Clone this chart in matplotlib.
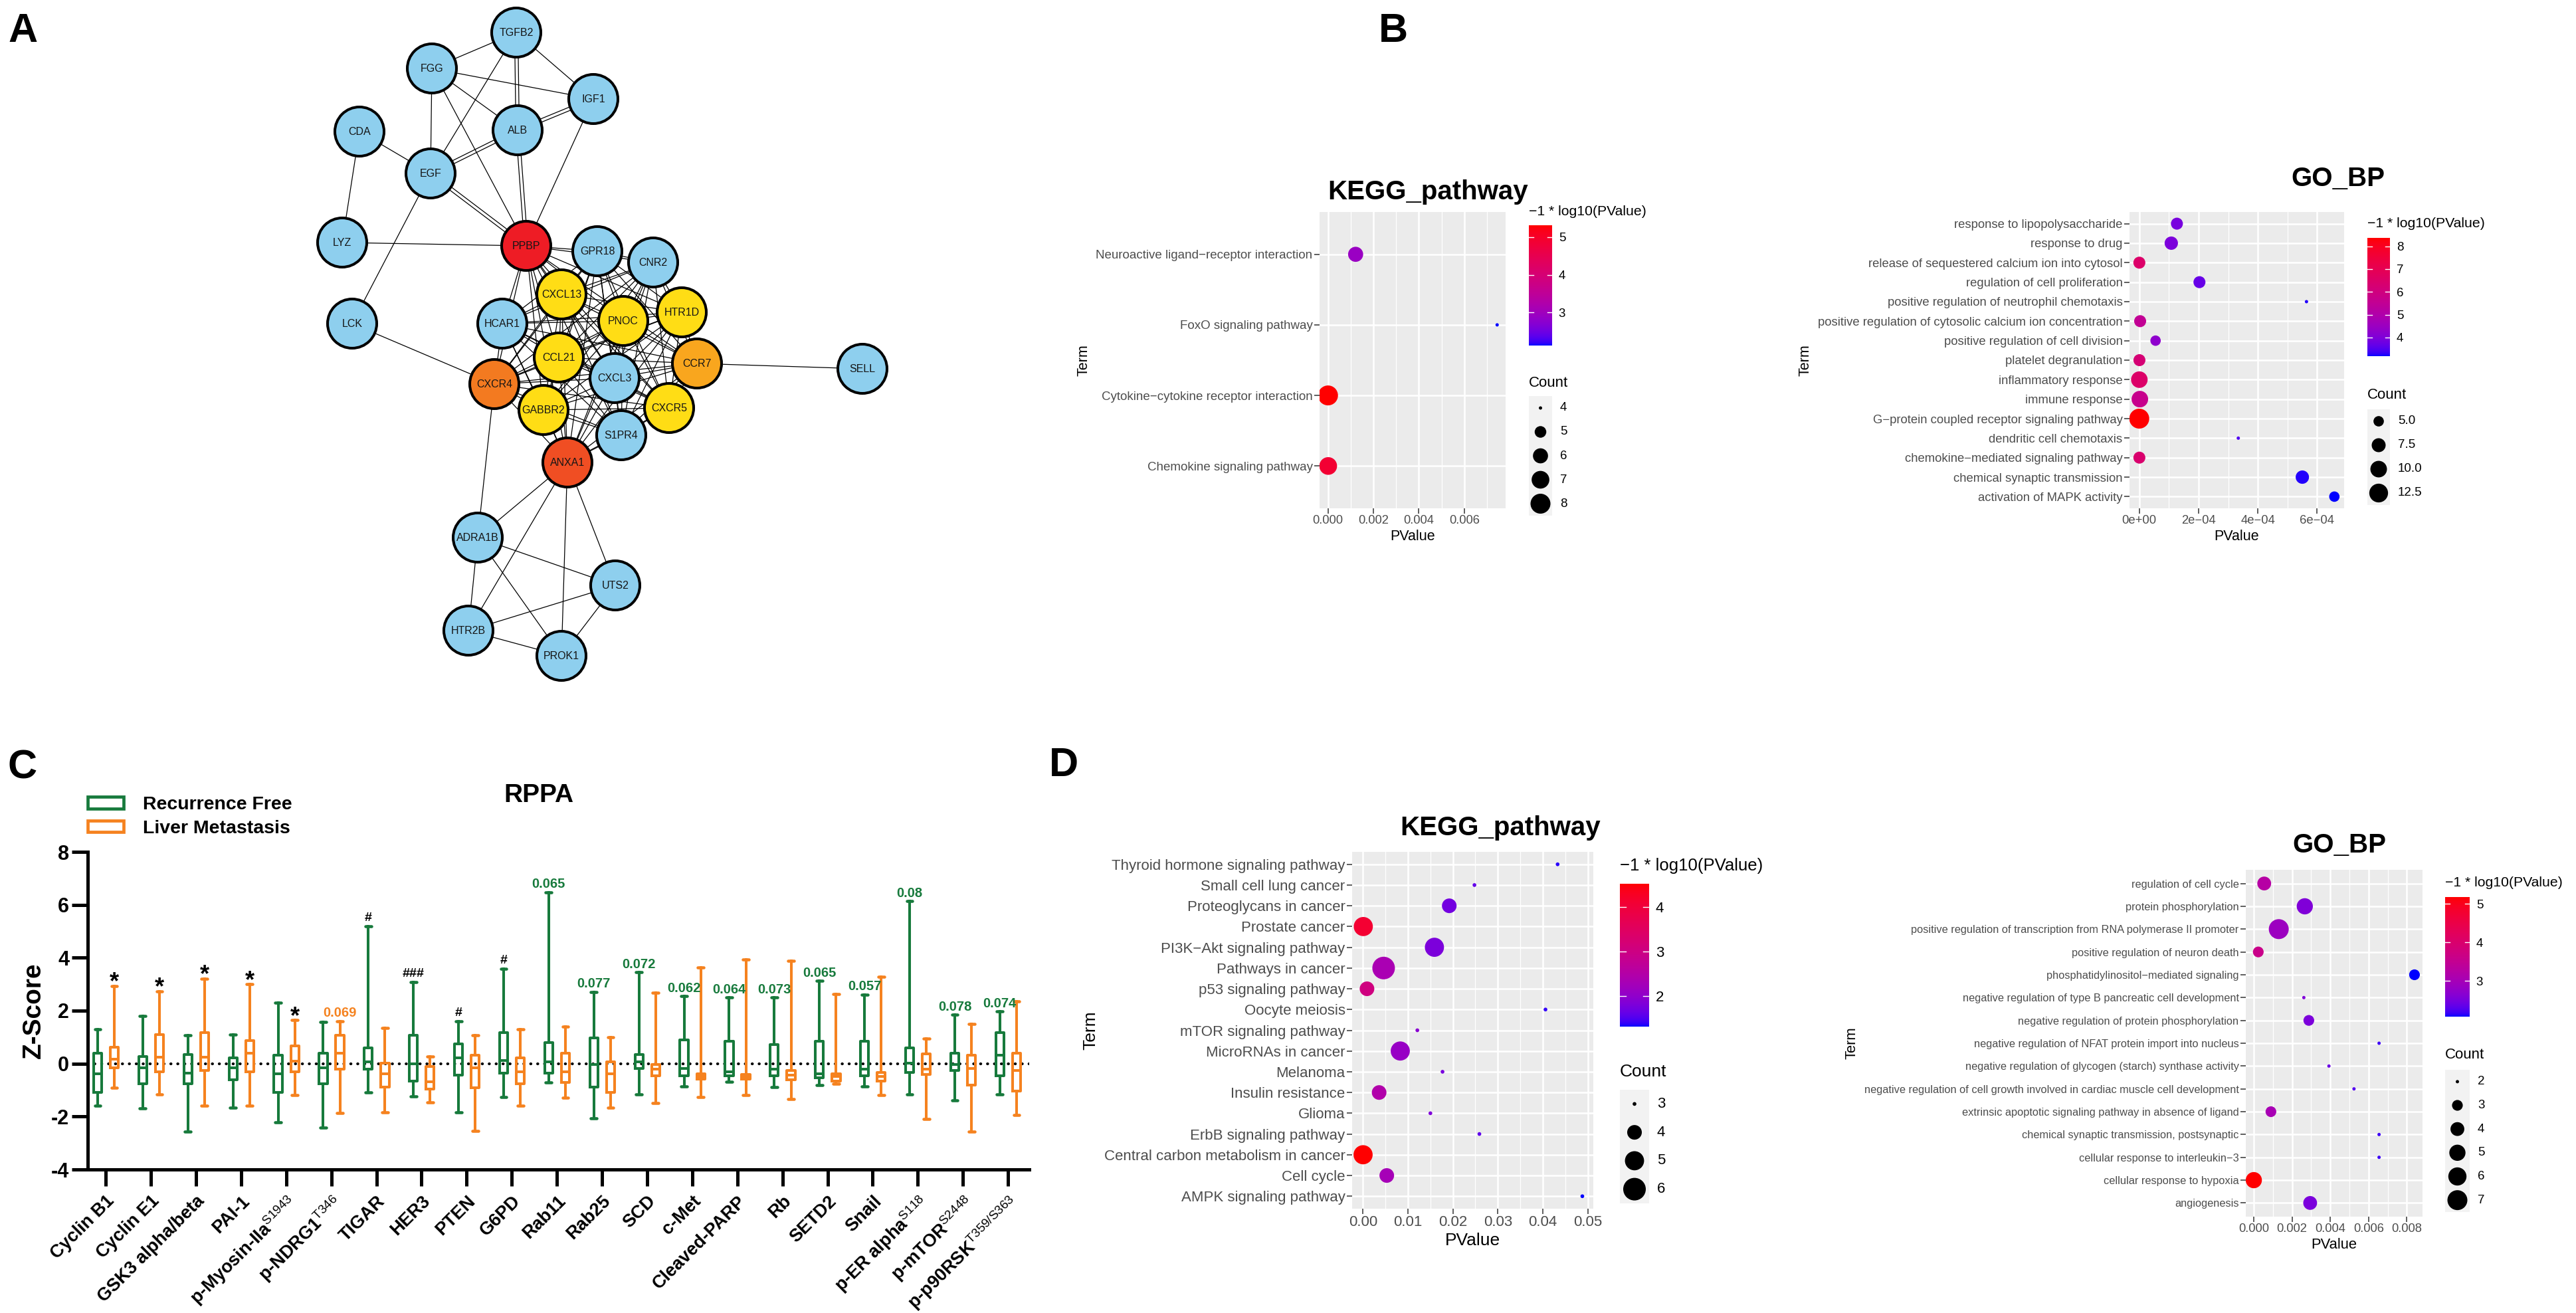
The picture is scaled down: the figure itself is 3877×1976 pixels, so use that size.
import itertools
import numpy as np
import matplotlib
matplotlib.use('Agg')
import matplotlib.pyplot as plt
from matplotlib.colors import ListedColormap
from matplotlib.patches import Patch

W, H = 3877, 1976
plt.rcParams['font.family'] = ['Liberation Sans', 'DejaVu Sans']
plt.rcParams['axes.unicode_minus'] = False
plt.rcParams['mathtext.fontset'] = 'custom'
plt.rcParams['mathtext.rm'] = 'Liberation Sans'
plt.rcParams['mathtext.bf'] = 'Liberation Sans:bold'

# ---------------- panel A: interaction network ----------------
node_names = ['TGFB2', 'FGG', 'IGF1', 'CDA', 'ALB', 'EGF', 'LYZ', 'PPBP', 'GPR18', 'CNR2',
              'LCK', 'CXCL13', 'PNOC', 'HTR1D', 'HCAR1', 'CCL21', 'CCR7', 'SELL', 'CXCR4',
              'CXCL3', 'GABBR2', 'CXCR5', 'S1PR4', 'ANXA1', 'ADRA1B', 'UTS2', 'HTR2B', 'PROK1']
node_x = [777, 650, 893, 541, 779, 648, 515, 792, 899, 983, 530, 845, 938, 1026, 756, 841,
          1049, 1298, 744, 925, 818, 1007, 935, 854, 719, 926, 705, 845]
node_y = [49, 103, 149, 198, 196, 261, 365, 370, 378, 395, 487, 443, 483, 470, 487, 538,
          547, 555, 578, 569, 617, 614, 655, 696, 809, 881, 949, 987]
node_group = ['other', 'other', 'other', 'other', 'other', 'other', 'other', 'top1', 'other',
              'other', 'other', 'hub', 'hub', 'hub', 'other', 'hub', 'top4', 'other', 'top3',
              'other', 'hub', 'hub', 'other', 'top2', 'other', 'other', 'other', 'other']
core_nodes = ['PPBP', 'GPR18', 'CNR2', 'CXCL13', 'PNOC', 'HTR1D', 'HCAR1', 'CCL21', 'CCR7',
              'CXCR4', 'CXCL3', 'GABBR2', 'CXCR5', 'S1PR4', 'ANXA1']
single_edges = [('TGFB2', 'FGG'), ('TGFB2', 'IGF1'), ('TGFB2', 'EGF'), ('FGG', 'IGF1'),
                ('FGG', 'ALB'), ('FGG', 'EGF'), ('FGG', 'PPBP'), ('IGF1', 'PPBP'),
                ('CDA', 'EGF'), ('CDA', 'LYZ'), ('EGF', 'LCK'), ('LYZ', 'PPBP'),
                ('LCK', 'CXCR4'), ('CCR7', 'SELL'), ('CXCR4', 'ADRA1B'), ('ANXA1', 'ADRA1B'),
                ('ANXA1', 'HTR2B'), ('ANXA1', 'PROK1'), ('ANXA1', 'UTS2'), ('ADRA1B', 'UTS2'),
                ('ADRA1B', 'HTR2B'), ('ADRA1B', 'PROK1'), ('UTS2', 'HTR2B'), ('UTS2', 'PROK1'),
                ('HTR2B', 'PROK1')]
double_edges = [('TGFB2', 'ALB'), ('IGF1', 'ALB'), ('ALB', 'EGF'), ('ALB', 'PPBP'),
                ('EGF', 'PPBP')]

# ---------------- panel B: enrichment of network genes ----------------
kegg_b_terms = ['Neuroactive ligand\u2212receptor interaction', 'FoxO signaling pathway',
                'Cytokine\u2212cytokine receptor interaction', 'Chemokine signaling pathway']
kegg_b_pvalue = [0.00122, 0.00745, 4.9e-6, 1.3e-5]
kegg_b_count = [6, 4, 8, 7]

go_b_terms = ['response to lipopolysaccharide', 'response to drug',
              'release of sequestered calcium ion into cytosol', 'regulation of cell proliferation',
              'positive regulation of neutrophil chemotaxis',
              'positive regulation of cytosolic calcium ion concentration',
              'positive regulation of cell division', 'platelet degranulation',
              'inflammatory response', 'immune response',
              'G\u2212protein coupled receptor signaling pathway', 'dendritic cell chemotaxis',
              'chemokine\u2212mediated signaling pathway', 'chemical synaptic transmission',
              'activation of MAPK activity']
go_b_pvalue = [1.27e-4, 1.08e-4, 3.2e-7, 2.03e-4, 5.64e-4, 3.0e-6, 5.5e-5, 6.0e-7, 3.0e-7,
               2.0e-6, 4.3e-9, 3.34e-4, 4.0e-7, 5.5e-4, 6.58e-4]
go_b_count = [6, 7, 6, 6, 3, 6, 5, 6, 10, 10, 14, 3, 6, 7, 5]

# ---------------- panel C: RPPA z-scores ----------------
rppa_labels = ['Cyclin B1', 'Cyclin E1', 'GSK3 alpha/beta', 'PAI-1',
               r'p-Myosin-IIa$^{\mathrm{S1943}}$', r'p-NDRG1$^{\mathrm{T346}}$', 'TIGAR', 'HER3',
               'PTEN', 'G6PD', 'Rab11', 'Rab25', 'SCD', 'c-Met', 'Cleaved-PARP', 'Rb', 'SETD2',
               'Snail', r'p-ER alpha$^{\mathrm{S118}}$', r'p-mTOR$^{\mathrm{S2448}}$',
               r'p-p90RSK$^{\mathrm{T359/S363}}$']
rf_min = [-1.60, -1.68, -2.57, -1.66, -2.22, -2.41, -1.10, -1.24, -1.83, -1.27, -0.72, -2.07,
          -1.16, -0.85, -0.69, -0.88, -0.80, -0.85, -1.16, -1.40, -1.16]
rf_q1 = [-1.08, -0.77, -0.77, -0.61, -1.08, -0.77, -0.22, -0.66, -0.43, -0.35, -0.35, -0.88,
         -0.19, -0.46, -0.46, -0.46, -0.54, -0.46, -0.33, -0.26, -0.46]
rf_med = [-0.38, -0.15, -0.35, -0.15, -0.38, -0.15, 0.06, 0.00, 0.21, 0.12, 0.06, -0.04,
          0.06, -0.19, -0.30, -0.22, -0.38, -0.22, 0.01, -0.04, 0.32]
rf_q3 = [0.40, 0.27, 0.35, 0.21, 0.32, 0.40, 0.59, 1.06, 0.74, 1.18, 0.79, 0.98, 0.35, 0.90,
         0.84, 0.71, 0.84, 0.84, 0.59, 0.40, 1.18]
rf_max = [1.30, 1.79, 1.07, 1.10, 2.30, 1.57, 5.20, 3.08, 1.61, 3.57, 6.48, 2.71, 3.45, 2.54,
          2.49, 2.49, 3.12, 2.61, 6.13, 1.84, 1.97]
lm_min = [-0.90, -1.16, -1.60, -1.60, -1.19, -1.86, -1.83, -1.47, -2.54, -1.60, -1.29, -1.66,
          -1.50, -1.27, -1.19, -1.35, -0.77, -1.19, -2.10, -2.57, -1.94]
lm_q1 = [-0.15, -0.30, -0.27, -0.30, -0.30, -0.22, -0.88, -0.97, -0.90, -0.77, -0.72, -1.08,
         -0.46, -0.58, -0.58, -0.61, -0.66, -0.66, -0.41, -0.80, -1.05]
lm_med = [0.17, 0.24, 0.24, 0.40, 0.09, 0.40, -0.38, -0.69, -0.15, -0.30, -0.30, -0.38, -0.22,
          -0.49, -0.49, -0.43, -0.49, -0.49, -0.22, -0.19, -0.27]
lm_q3 = [0.63, 1.10, 1.18, 0.87, 0.68, 1.06, 0.01, -0.10, 0.32, 0.21, 0.40, 0.06, -0.04, -0.38,
         -0.41, -0.26, -0.38, -0.33, 0.37, 0.32, 0.40]
lm_max = [2.94, 2.74, 3.21, 3.00, 1.65, 1.61, 1.34, 0.27, 1.07, 1.30, 1.41, 0.99, 2.68, 3.63,
          3.94, 3.89, 2.63, 3.28, 0.94, 1.49, 2.35]
# (protein index, group, mark)
rppa_marks = [(0, 'LM', '*'), (1, 'LM', '*'), (2, 'LM', '*'), (3, 'LM', '*'), (4, 'LM', '*'),
              (5, 'LM', '0.069'), (6, 'RF', '#'), (7, 'RF', '###'), (8, 'RF', '#'),
              (9, 'RF', '#'), (10, 'RF', '0.065'), (11, 'RF', '0.077'), (12, 'RF', '0.072'),
              (13, 'RF', '0.062'), (14, 'RF', '0.064'), (15, 'RF', '0.073'), (16, 'RF', '0.065'),
              (17, 'RF', '0.057'), (18, 'RF', '0.08'), (19, 'RF', '0.078'), (20, 'RF', '0.074')]

# ---------------- panel D: enrichment of RPPA proteins ----------------
kegg_d_terms = ['Thyroid hormone signaling pathway', 'Small cell lung cancer',
                'Proteoglycans in cancer', 'Prostate cancer', 'PI3K\u2212Akt signaling pathway',
                'Pathways in cancer', 'p53 signaling pathway', 'Oocyte meiosis',
                'mTOR signaling pathway', 'MicroRNAs in cancer', 'Melanoma', 'Insulin resistance',
                'Glioma', 'ErbB signaling pathway', 'Central carbon metabolism in cancer',
                'Cell cycle', 'AMPK signaling pathway']
kegg_d_pvalue = [0.0433, 0.0248, 0.0192, 0.00008, 0.0159, 0.0046, 0.0009, 0.0406, 0.0121,
                 0.0083, 0.0177, 0.0036, 0.0150, 0.0259, 0.00003, 0.0053, 0.0488]
kegg_d_count = [3, 3, 4, 5, 5, 6, 4, 3, 3, 5, 3, 4, 3, 3, 5, 4, 3]

go_d_terms = ['regulation of cell cycle', 'protein phosphorylation',
              'positive regulation of transcription from RNA polymerase II promoter',
              'positive regulation of neuron death', 'phosphatidylinositol\u2212mediated signaling',
              'negative regulation of type B pancreatic cell development',
              'negative regulation of protein phosphorylation',
              'negative regulation of NFAT protein import into nucleus',
              'negative regulation of glycogen (starch) synthase activity',
              'negative regulation of cell growth involved in cardiac muscle cell development',
              'extrinsic apoptotic signaling pathway in absence of ligand',
              'chemical synaptic transmission, postsynaptic',
              'cellular response to interleukin\u22123', 'cellular response to hypoxia',
              'angiogenesis']
go_d_pvalue = [0.00055, 0.00267, 0.00131, 0.00024, 0.0084, 0.00262, 0.00288, 0.00655, 0.00393,
               0.00524, 0.0009, 0.00655, 0.00655, 6.6e-6, 0.00295]
go_d_count = [4, 5, 7, 3, 3, 2, 3, 2, 2, 2, 3, 2, 2, 5, 4]

GREEN = '#177A3C'
ORANGE = '#F5821F'
NODE_COLORS = {'other': '#8ECFEE', 'hub': '#FFDD15', 'top1': '#EE1C25', 'top2': '#F04E23',
               'top3': '#F37A20', 'top4': '#F9A61E'}


def rect(x0, y0, x1, y1):
    """pixel box (top-left origin) -> figure coords"""
    return [x0 / W, 1 - y1 / H, (x1 - x0) / W, (y1 - y0) / H]


def ftext(x, y, s, **kw):
    fig.text(x / W, 1 - y / H, s, **kw)


# blue -> red gradient interpolated in CIELAB like ggplot
M = np.array([[0.4124564, 0.3575761, 0.1804375],
              [0.2126729, 0.7151522, 0.0721750],
              [0.0193339, 0.1191920, 0.9503041]])
WHITE = np.array([0.95047, 1.0, 1.08883])


def to_lab(rgb):
    c = np.asarray(rgb, float)
    lin = np.where(c <= 0.04045, c / 12.92, ((c + 0.055) / 1.055) ** 2.4)
    t = (M @ lin) / WHITE
    f = np.where(t > (6 / 29) ** 3, np.cbrt(t), t / (3 * (6 / 29) ** 2) + 4 / 29)
    return np.array([116 * f[1] - 16, 500 * (f[0] - f[1]), 200 * (f[1] - f[2])])


def from_lab(lab):
    fy = (lab[0] + 16) / 116
    f = np.array([fy + lab[1] / 500, fy, fy - lab[2] / 200])
    t = np.where(f > 6 / 29, f ** 3, 3 * (6 / 29) ** 2 * (f - 4 / 29))
    lin = np.clip(np.linalg.solve(M, t * WHITE), 0, 1)
    return np.clip(np.where(lin <= 0.0031308, 12.92 * lin, 1.055 * lin ** (1 / 2.4) - 0.055), 0, 1)


lab_lo, lab_hi = to_lab([0, 0, 1]), to_lab([1, 0, 0])
cmap = ListedColormap([from_lab(lab_lo + (lab_hi - lab_lo) * f) for f in np.linspace(0, 1, 256)])


def dot_diam(c, cmin, cmax, dmax):
    # ggplot scale_size: area palette, range 1..6
    return dmax / 6 + dmax * 5 / 6 * np.sqrt((np.asarray(c, float) - cmin) / (cmax - cmin))


def dot_panel(box, terms, pvals, counts, xticks, xlabels, xminor, dmax, fs_terms, fs_ticks,
              fs_axis):
    ax = fig.add_axes(rect(*box))
    ax.set_facecolor('#EBEBEB')
    pvals = np.asarray(pvals)
    n = len(terms)
    y = np.arange(n)[::-1] + 1
    score = -np.log10(pvals)
    cols = cmap((score - score.min()) / (score.max() - score.min()))
    d = dot_diam(counts, min(counts), max(counts), dmax)
    ax.scatter(pvals, y, s=(d * 0.72) ** 2, c=cols, linewidths=0, zorder=3)
    span = pvals.max() - pvals.min()
    ax.set_xlim(pvals.min() - 0.05 * span, pvals.max() + 0.05 * span)
    ax.set_ylim(0.4, n + 0.6)
    ax.set_xticks(xticks, xlabels)
    ax.set_xticks(xminor, minor=True)
    ax.set_yticks(y, terms)
    ax.grid(which='major', color='white', lw=1.8, zorder=0)
    ax.grid(which='minor', axis='x', color='white', lw=0.9, zorder=0)
    ax.set_axisbelow(True)
    for s in ax.spines.values():
        s.set_visible(False)
    ax.tick_params(which='major', length=5.5, width=1.1, color='#333333', pad=2,
                   labelcolor='#4D4D4D')
    ax.tick_params(axis='y', labelsize=fs_terms)
    ax.tick_params(axis='x', labelsize=fs_ticks)
    ax.tick_params(which='minor', length=0)
    ax.set_xlabel('PValue', fontsize=fs_axis, labelpad=3)
    ax.set_ylabel('Term', fontsize=fs_axis, labelpad=6)
    return score


def colour_bar(box, score, fs, title, fs_title, title_y):
    cax = fig.add_axes(rect(*box))
    lo, hi = score.min(), score.max()
    cax.imshow(np.linspace(lo, hi, 256)[:, None], aspect='auto', cmap=cmap, origin='lower',
               extent=[0, 1, lo, hi])
    ticks = np.arange(np.ceil(lo), np.floor(hi) + 1)
    for t in ticks:
        cax.plot([0, 0.2], [t, t], color='white', lw=1.0)
        cax.plot([0.8, 1], [t, t], color='white', lw=1.0)
    cax.set_xlim(0, 1)
    cax.set_ylim(lo, hi)
    cax.set_xticks([])
    cax.yaxis.tick_right()
    cax.set_yticks(ticks, [f'{t:.0f}' for t in ticks])
    cax.tick_params(length=0, labelsize=fs, pad=7)
    for s in cax.spines.values():
        s.set_visible(False)
    ftext(box[0], title_y, title, fontsize=fs_title, va='center', ha='left')


def size_legend(box, breaks, labels, counts, dmax, fs, fs_title, title_y):
    lax = fig.add_axes(rect(*box))
    lax.set_facecolor('#F2F2F2')
    nb = len(breaks)
    pos = np.arange(nb) + 0.5
    d = dot_diam(breaks, min(counts), max(counts), dmax)
    lax.scatter([0.5] * nb, pos, s=(d * 0.72) ** 2, c='black', linewidths=0)
    lax.set_xlim(0, 1)
    lax.set_ylim(nb, 0)
    for p, lab in zip(pos, labels):
        lax.text(1 + 12 / (box[2] - box[0]), p, lab, fontsize=fs, va='center', ha='left',
                 clip_on=False)
    lax.set_xticks([])
    lax.set_yticks([])
    for s in lax.spines.values():
        s.set_visible(False)
    ftext(box[0], title_y, 'Count', fontsize=fs_title, va='center', ha='left')


fig = plt.figure(figsize=(W / 100, H / 100), dpi=100, facecolor='white')

# ---------- A ----------
axa = fig.add_axes(rect(0, 0, 1500, 1060))
axa.set_xlim(0, 1500)
axa.set_ylim(1060, 0)
axa.axis('off')
pos = {n: np.array([x, y], float) for n, x, y in zip(node_names, node_x, node_y)}
core_edges = list(itertools.combinations(core_nodes, 2))
for a, b in single_edges + core_edges:
    axa.plot([pos[a][0], pos[b][0]], [pos[a][1], pos[b][1]], color='black', lw=0.9, zorder=1)
for a, b in double_edges:
    v = pos[b] - pos[a]
    nrm = np.array([-v[1], v[0]]) / np.hypot(*v) * 2.5
    for sgn in (-1, 1):
        axa.plot([pos[a][0] + sgn * nrm[0], pos[b][0] + sgn * nrm[0]],
                 [pos[a][1] + sgn * nrm[1], pos[b][1] + sgn * nrm[1]],
                 color='black', lw=0.9, zorder=1)
axa.scatter(node_x, node_y, s=(74 * 0.72) ** 2, c=[NODE_COLORS[g] for g in node_group],
            edgecolors='black', linewidths=2.9, zorder=2)
for n, x, y in zip(node_names, node_x, node_y):
    axa.text(x, y, n, fontsize=11.5, ha='center', va='center', color='#151515', zorder=3)

# ---------- B ----------
s_kb = dot_panel((1986, 319, 2266, 765), kegg_b_terms, kegg_b_pvalue, kegg_b_count,
                 [0, 0.002, 0.004, 0.006], ['0.000', '0.002', '0.004', '0.006'],
                 [0.001, 0.003, 0.005, 0.007], 30, 13.5, 13.2, 15.5)
colour_bar((2301, 339, 2336, 520), s_kb, 13.5, '\u22121 * log10(PValue)', 15.3, 318)
size_legend((2301, 596, 2336, 776), [4, 5, 6, 7, 8], ['4', '5', '6', '7', '8'], kegg_b_count,
            30, 13.5, 16, 576)
ftext(2149, 300, 'KEGG_pathway', fontsize=29, fontweight='bold', ha='center', va='baseline')

s_gb = dot_panel((3205, 319, 3528, 765), go_b_terms, go_b_pvalue, go_b_count,
                 [0, 2e-4, 4e-4, 6e-4], ['0e+00', '2e\u221204', '4e\u221204', '6e\u221204'],
                 [1e-4, 3e-4, 5e-4], 30, 13.3, 13.3, 15.5)
colour_bar((3563, 358, 3597, 536), s_gb, 13.5, '\u22121 * log10(PValue)', 15.3, 336)
size_legend((3563, 616, 3597, 760), [5, 7.5, 10, 12.5], ['5.0', '7.5', '10.0', '12.5'],
            go_b_count, 30, 13.5, 16, 594)
ftext(3519, 280, 'GO_BP', fontsize=29, fontweight='bold', ha='center', va='baseline')

# ---------- C ----------
axc = fig.add_axes(rect(132, 1282, 1549, 1760))
idx = np.arange(len(rppa_labels))
for grp, col, off, lo, q1, md, q3, hi in [
        ('RF', GREEN, -0.18, rf_min, rf_q1, rf_med, rf_q3, rf_max),
        ('LM', ORANGE, 0.19, lm_min, lm_q1, lm_med, lm_q3, lm_max)]:
    stats = [dict(whislo=a, q1=b, med=c, q3=d, whishi=e, fliers=[])
             for a, b, c, d, e in zip(lo, q1, md, q3, hi)]
    lp = dict(color=col, lw=2.9)
    axc.bxp(stats, positions=idx + off, widths=0.18, capwidths=0.13, showfliers=False,
            boxprops=lp, whiskerprops=lp, capprops=dict(color=col, lw=3.3, solid_capstyle='round'),
            medianprops=lp, manage_ticks=False, zorder=3)
axc.axhline(0, color='black', ls=(0, (0.1, 2.4)), lw=3, dash_capstyle='round', zorder=2)
for i, grp, mark in rppa_marks:
    top = rf_max[i] if grp == 'RF' else lm_max[i]
    x = i - 0.18 if grp == 'RF' else i + 0.19
    if mark == '*':
        axc.text(x, top - 0.12, mark, fontsize=26, fontweight='bold', ha='center',
                 va='baseline', color='black')
    elif mark.startswith('#'):
        axc.text(x, top + 0.2, mark, fontsize=14, fontweight='bold', ha='center',
                 va='baseline', color='black')
    else:
        axc.text(x, top + 0.16, mark, fontsize=14.5, fontweight='bold', ha='center',
                 va='baseline', color=GREEN if grp == 'RF' else ORANGE)
axc.set_xlim(-0.4, 20.47)
axc.set_ylim(-4, 8)
axc.set_yticks([-4, -2, 0, 2, 4, 6, 8])
axc.set_xticks(idx, rppa_labels, rotation=45, ha='right', rotation_mode='anchor',
               fontsize=19.5, fontweight='bold')
for lab in axc.get_yticklabels():
    lab.set_fontweight('bold')
axc.tick_params(axis='y', length=17, width=3.6, labelsize=22, pad=3)
axc.tick_params(axis='x', length=18, width=3.6, pad=7)
for s in ['top', 'right']:
    axc.spines[s].set_visible(False)
for s in ['left', 'bottom']:
    axc.spines[s].set_linewidth(3.6)
axc.set_ylabel('Z-Score', fontsize=28, fontweight='bold', labelpad=6)
ftext(811, 1207, 'RPPA', fontsize=28, fontweight='bold', ha='center', va='baseline')
axc.legend(handles=[Patch(facecolor='white', edgecolor=GREEN, lw=3.4),
                    Patch(facecolor='white', edgecolor=ORANGE, lw=3.4)],
           labels=['Recurrence Free', 'Liver Metastasis'], loc='upper left',
           bbox_to_anchor=(132 / W, 1 - 1198 / H), bbox_transform=fig.transFigure,
           frameon=False, prop=dict(size=20.5, weight='bold'), handlelength=1.9,
           handleheight=0.55, handletextpad=1.0, labelspacing=0.35, borderpad=0,
           borderaxespad=0)

# ---------- D ----------
s_kd = dot_panel((2035, 1282, 2398, 1819), kegg_d_terms, kegg_d_pvalue, kegg_d_count,
                 [0, 0.01, 0.02, 0.03, 0.04, 0.05], ['0.00', '0.01', '0.02', '0.03', '0.04', '0.05'],
                 [0.005, 0.015, 0.025, 0.035, 0.045], 34, 16, 16, 19)
colour_bar((2438, 1330, 2482, 1545), s_kd, 16, '\u22121 * log10(PValue)', 18.5, 1303)
size_legend((2438, 1640, 2482, 1811), [3, 4, 5, 6], ['3', '4', '5', '6'], kegg_d_count,
            34, 16, 19, 1613)
ftext(2258, 1257, 'KEGG_pathway', fontsize=29, fontweight='bold', ha='center', va='baseline')

s_gd = dot_panel((3380, 1309, 3646, 1831), go_d_terms, go_d_pvalue, go_d_count,
                 [0, 0.002, 0.004, 0.006, 0.008], ['0.000', '0.002', '0.004', '0.006', '0.008'],
                 [0.001, 0.003, 0.005, 0.007], 30, 11.8, 13.2, 15.8)
colour_bar((3680, 1350, 3717, 1530), s_gd, 13.5, '\u22121 * log10(PValue)', 15.3, 1329)
size_legend((3680, 1610, 3717, 1824), [2, 3, 4, 5, 6, 7], ['2', '3', '4', '5', '6', '7'],
            go_d_count, 30, 13.5, 16, 1587)
ftext(3521, 1283, 'GO_BP', fontsize=29, fontweight='bold', ha='center', va='baseline')

# panel letters
for letter, x, y in [('A', 12, 63), ('B', 2075, 63), ('C', 11, 1171), ('D', 1579, 1168)]:
    ftext(x, y, letter, fontsize=44, fontweight='bold', ha='left', va='baseline')

fig.savefig('out.png', dpi=100, facecolor='white')
